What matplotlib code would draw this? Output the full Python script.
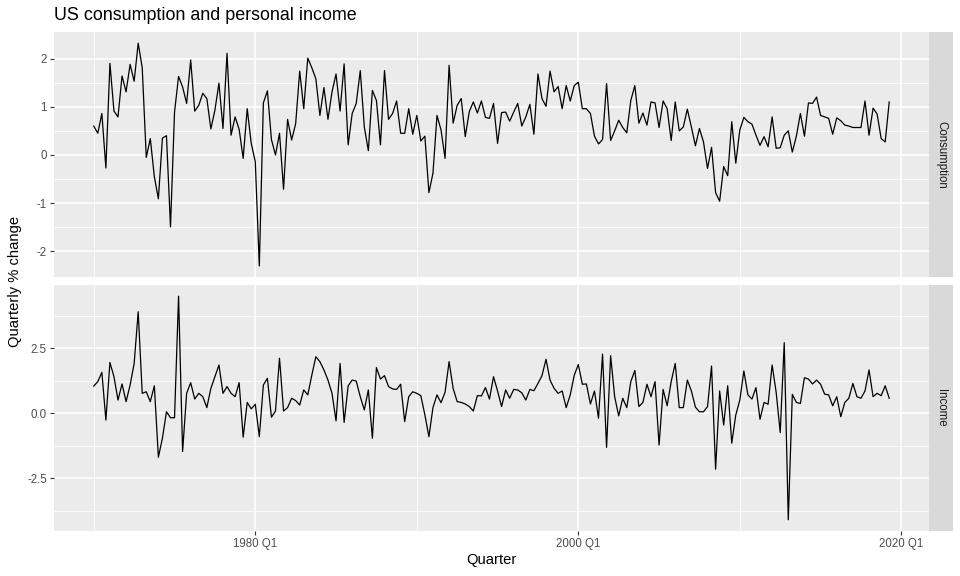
import matplotlib
matplotlib.use('Agg')
import matplotlib.pyplot as plt
import numpy as np

# quarterly % change, 1970 Q1 .. 2019 Q2
consumption = [
    0.60, 0.45, 0.86, -0.27, 1.90, 0.91, 0.79, 1.64, 1.31, 1.88,
    1.53, 2.32, 1.81, -0.05, 0.34, -0.45, -0.91, 0.35, 0.40, -1.49,
    0.89, 1.63, 1.41, 1.07, 1.97, 0.91, 1.03, 1.28, 1.17, 0.54,
    0.93, 1.49, 0.55, 2.11, 0.41, 0.79, 0.53, -0.07, 0.96, 0.24,
    -0.14, -2.30, 1.08, 1.33, 0.32, 0.00, 0.45, -0.71, 0.74, 0.31,
    0.65, 1.74, 0.96, 2.01, 1.81, 1.58, 0.82, 1.40, 0.74, 1.31,
    1.68, 0.91, 1.89, 0.21, 0.86, 1.07, 1.75, 0.58, 0.09, 1.34,
    1.13, 0.21, 1.75, 0.74, 0.86, 1.12, 0.45, 0.45, 0.96, 0.43,
    0.82, 0.29, 0.39, -0.78, -0.38, 0.82, 0.52, -0.07, 1.86, 0.66,
    1.03, 1.17, 0.38, 0.90, 1.10, 0.87, 1.12, 0.78, 0.76, 1.07,
    0.24, 0.88, 0.89, 0.70, 0.89, 1.07, 0.60, 0.79, 1.05, 0.43,
    1.68, 1.17, 1.01, 1.74, 1.31, 1.42, 0.96, 1.44, 1.12, 1.44,
    1.51, 0.96, 0.96, 0.86, 0.39, 0.23, 0.32, 1.48, 0.30, 0.50,
    0.72, 0.57, 0.46, 1.13, 1.44, 0.66, 0.87, 0.62, 1.10, 1.08,
    0.57, 1.12, 0.96, 0.30, 1.10, 0.50, 0.58, 0.95, 0.58, 0.19,
    0.55, 0.27, -0.28, 0.16, -0.78, -0.96, -0.24, -0.43, 0.69, -0.17,
    0.52, 0.78, 0.69, 0.64, 0.41, 0.20, 0.38, 0.17, 0.79, 0.14,
    0.15, 0.41, 0.50, 0.06, 0.39, 0.86, 0.39, 1.08, 1.07, 1.20,
    0.82, 0.79, 0.76, 0.43, 0.77, 0.71, 0.62, 0.60, 0.57, 0.57,
    0.57, 1.12, 0.41, 0.97, 0.85, 0.34, 0.27, 1.10,
]

income = [
    1.05, 1.22, 1.58, -0.26, 1.96, 1.41, 0.51, 1.13, 0.45, 1.09,
    1.92, 3.91, 0.77, 0.83, 0.45, 1.06, -1.69, -0.96, 0.06, -0.17,
    -0.17, 4.51, -1.47, 0.77, 1.18, 0.55, 0.77, 0.64, 0.22, 0.96,
    1.41, 1.86, 0.77, 1.03, 0.77, 0.64, 1.18, -0.92, 0.42, 0.17,
    0.35, -0.90, 1.09, 1.35, -0.15, 0.09, 2.12, 0.09, 0.22, 0.58,
    0.49, 0.32, 0.90, 0.71, 1.47, 2.18, 1.99, 1.67, 1.28, 0.77,
    -0.29, 1.92, -0.35, 1.06, 1.28, 1.24, 0.64, 0.13, 0.90, -0.96,
    1.76, 1.32, 1.45, 1.03, 0.94, 0.92, 1.12, -0.32, 0.64, 0.83,
    0.77, 0.68, -0.06, -0.90, 0.22, 0.71, 0.41, 0.81, 1.99, 0.96,
    0.45, 0.42, 0.36, 0.26, 0.09, 0.68, 0.67, 0.99, 0.55, 1.41,
    0.86, 0.26, 0.90, 0.58, 0.92, 0.90, 0.79, 0.51, 0.92, 0.87,
    1.15, 1.45, 2.08, 1.28, 0.96, 0.77, 0.86, 0.22, 0.71, 1.47,
    1.88, 1.12, 1.13, 0.36, 0.86, -0.19, 2.28, -1.31, 2.22, 0.64,
    -0.10, 0.58, 0.22, 1.22, 1.65, 0.26, 0.42, 1.12, 0.64, 1.22,
    -1.22, 0.92, 0.29, 1.22, 1.92, 0.22, 0.22, 1.28, 0.86, 0.24,
    0.06, 0.06, 0.26, 1.82, -2.15, 0.86, -0.45, 1.06, -1.15, -0.06,
    0.51, 1.63, 0.71, 0.55, 0.99, -0.23, 0.42, 0.35, 1.86, 0.81,
    -0.74, 2.72, -4.10, 0.73, 0.42, 0.38, 1.37, 1.32, 1.13, 1.28,
    1.12, 0.74, 0.71, 0.29, 0.64, -0.13, 0.42, 0.58, 1.15, 0.64,
    0.58, 0.86, 1.67, 0.64, 0.77, 0.68, 1.06, 0.58,
]

quarters = 1970 + np.arange(len(consumption)) / 4

x_major = [1980, 2000, 2020]
x_major_labels = ["1980 Q1", "2000 Q1", "2020 Q1"]
x_minor = [1970, 1990, 2010]

cons_ticks = [-2, -1, 0, 1, 2]
cons_minor = [-1.5, -0.5, 0.5, 1.5]
inc_ticks = [-2.5, 0.0, 2.5]
inc_minor = [-3.75, -1.25, 1.25, 3.75]

plt.rcParams['font.family'] = ['Liberation Sans', 'DejaVu Sans']

fig = plt.figure(figsize=(9.6, 5.76), dpi=100)

left, right = 54 / 960, 929 / 960
panels = [
    (consumption, "Consumption", cons_ticks, cons_minor, (32, 277)),
    (income, "Income", inc_ticks, inc_minor, (285, 531)),
]

axes = []
for vals, name, yt, ymin, (top_px, bot_px) in panels:
    b = 1 - bot_px / 576
    h = (bot_px - top_px) / 576
    ax = fig.add_axes([left, b, right - left, h])
    ax.set_facecolor('#EBEBEB')
    for s in ax.spines.values():
        s.set_visible(False)
    ax.plot(quarters, vals, color='black', lw=0.9, zorder=3)
    ax.margins(x=0.05, y=0.05)

    ax.set_xticks(x_major)
    ax.set_xticks(x_minor, minor=True)
    ax.set_yticks(yt)
    ax.set_yticks(ymin, minor=True)
    if name == "Income":
        ax.set_yticklabels([f"{t:.1f}" for t in yt])
        ax.set_xticklabels(x_major_labels)
    else:
        ax.set_yticklabels([str(t) for t in yt])
        ax.tick_params(axis='x', which='both', bottom=False, labelbottom=False)

    ax.grid(which='major', color='white', lw=1.1, zorder=1)
    ax.grid(which='minor', color='white', lw=0.55, zorder=1)
    ax.set_axisbelow(True)
    ax.tick_params(axis='both', which='major', length=2.9, width=0.8,
                   color='#333333', labelcolor='#4D4D4D', labelsize=8.3, pad=2.2)
    ax.tick_params(axis='both', which='minor', length=0)

    # facet strip on the right
    sax = fig.add_axes([right, b, 24 / 960, h])
    sax.set_facecolor('#D9D9D9')
    sax.set_xticks([])
    sax.set_yticks([])
    for s in sax.spines.values():
        s.set_visible(False)
    sax.text(0.5, 0.5, name, rotation=270, ha='center', va='center',
             color='#1A1A1A', fontsize=8.3, transform=sax.transAxes)
    axes.append(ax)

xlim = axes[1].get_xlim()
axes[0].set_xlim(xlim)

fig.text(left, 1 - 15 / 576, "US consumption and personal income",
         ha='left', va='center', fontsize=12.9, color='black')
fig.text((left + right) / 2, 1 - 560 / 576, "Quarter", ha='center', va='center',
         fontsize=10.6, color='black')
fig.text(15 / 960, 1 - 281.5 / 576, "Quarterly % change", rotation=90,
         ha='center', va='center', fontsize=10.6, color='black')

fig.savefig('out.png', dpi=100)
